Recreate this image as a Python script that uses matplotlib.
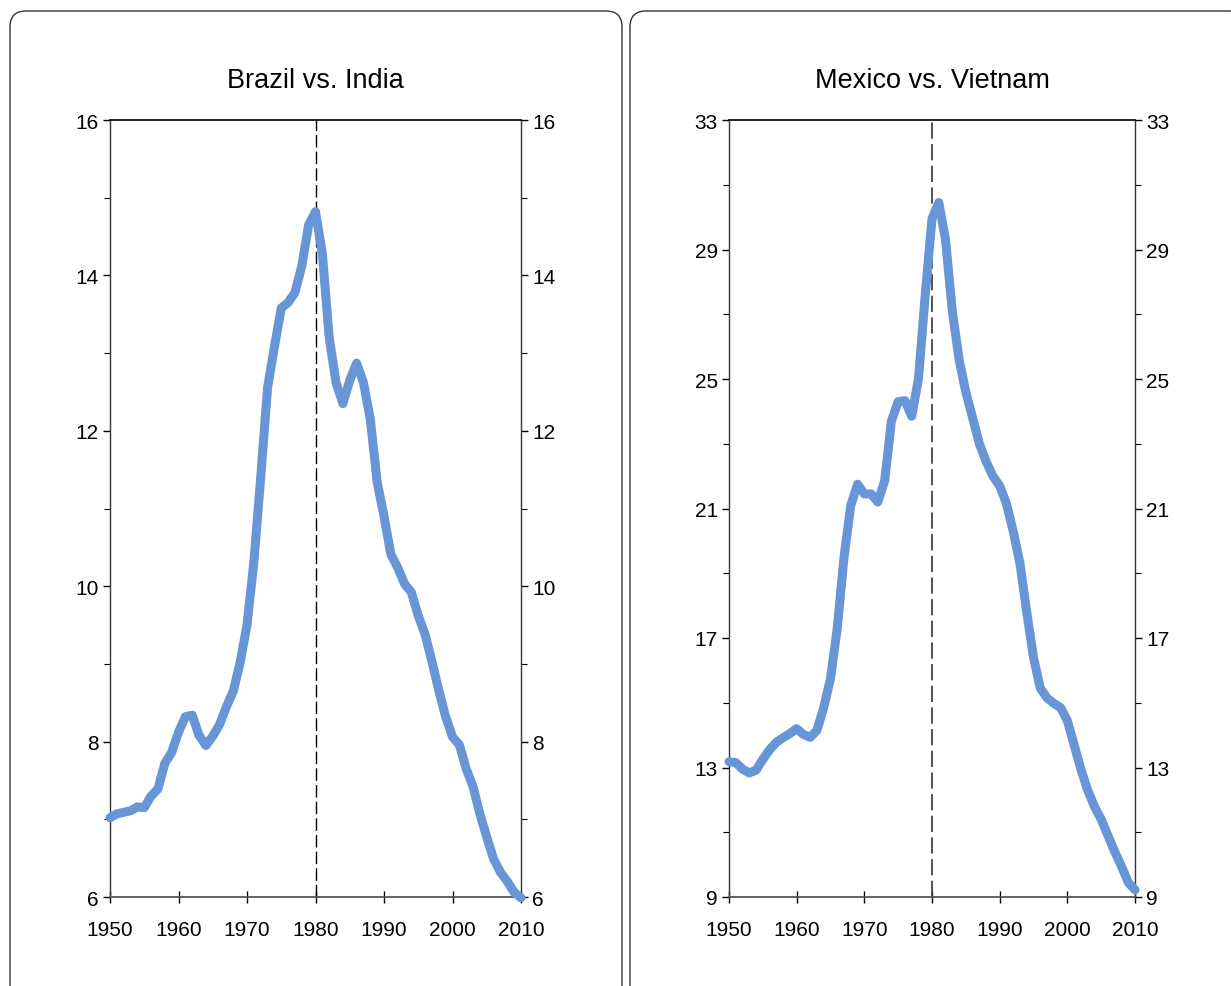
import matplotlib
matplotlib.use('Agg')
import matplotlib.pyplot as plt
import numpy as np
from matplotlib.patches import FancyBboxPatch

plt.rcParams['font.family'] = ['Liberation Sans', 'DejaVu Sans']

years = list(range(1950, 2011))

# Brazil vs. India
brazil_india = [7.02, 7.07, 7.09, 7.11, 7.16, 7.15, 7.30, 7.39, 7.72, 7.86,
                8.12, 8.32, 8.34, 8.08, 7.95, 8.07, 8.22, 8.45, 8.65, 9.02,
                9.50, 10.31, 11.40, 12.55, 13.08, 13.58, 13.65, 13.78, 14.12, 14.65,
                14.82, 14.28, 13.20, 12.62, 12.35, 12.65, 12.87, 12.62, 12.15, 11.34,
                10.90, 10.41, 10.24, 10.03, 9.92, 9.62, 9.38, 9.03, 8.66, 8.32,
                8.06, 7.96, 7.65, 7.42, 7.07, 6.77, 6.49, 6.32, 6.20, 6.06,
                5.99]

# Mexico vs. Vietnam
mexico_vietnam = [13.18, 13.15, 12.95, 12.83, 12.92, 13.25, 13.55, 13.78, 13.92, 14.05,
                  14.20, 14.02, 13.93, 14.15, 14.85, 15.75, 17.30, 19.50, 21.10, 21.75,
                  21.45, 21.45, 21.20, 21.85, 23.70, 24.30, 24.33, 23.85, 25.00, 27.60,
                  29.95, 30.45, 29.30, 27.10, 25.60, 24.60, 23.80, 23.00, 22.45, 22.00,
                  21.70, 21.15, 20.30, 19.30, 17.80, 16.40, 15.45, 15.15, 14.98, 14.85,
                  14.45, 13.70, 12.95, 12.30, 11.80, 11.40, 10.90, 10.40, 9.95, 9.45,
                  9.22]

titles = ['Brazil vs. India', 'Mexico vs. Vietnam']
ylims = [(6, 16), (9, 33)]
ystep = [2, 4]
marker_year = 1980

W, H = 1231, 987
fig = plt.figure(figsize=(W / 100, H / 100), dpi=100)

# background layer in pixel units for the rounded panel frames
bg = fig.add_axes([0, 0, 1, 1], zorder=0)
bg.set_xlim(0, W)
bg.set_ylim(H, 0)
bg.axis('off')
for x0, x1 in [(10, 622), (630, 1245)]:
    box = FancyBboxPatch((x0, 12), x1 - x0, 1100, boxstyle='round,pad=0,rounding_size=16',
                         fc='white', ec='#333333', lw=1.0)
    bg.add_patch(box)

panels = [
    (110, 521, brazil_india),
    (729, 1135, mexico_vietnam),
]

for i, (px0, px1, vals) in enumerate(panels):
    ax = fig.add_axes([px0 / W, (H - 898) / H, (px1 - px0) / W, (898 - 121) / H], zorder=1)
    ax.patch.set_alpha(0)
    ax.plot(years, vals, color='#6795d6', lw=6.5, solid_capstyle='round', solid_joinstyle='round',
            zorder=3, clip_on=False)
    ax.axvline(marker_year, color='black' if i == 0 else '#444444', lw=1.0 if i == 0 else 1.3,
               dashes=(9, 3), zorder=2)

    lo, hi = ylims[i]
    ax.set_xlim(1950, 2010)
    ax.set_ylim(lo, hi)
    ax.set_xticks(range(1950, 2011, 10))
    ax.set_yticks(np.arange(lo, hi + 0.1, ystep[i]))
    ax.set_yticks(np.arange(lo + ystep[i] / 2, hi, ystep[i]), minor=True)

    ax.tick_params(axis='x', direction='inout', length=9, width=1, labelsize=15, pad=12)
    ax.tick_params(axis='y', which='major', direction='out', length=5, width=1, labelsize=15,
                   left=True, right=True, labelleft=True, labelright=True, pad=3)
    ax.tick_params(axis='y', which='minor', direction='out', length=4, width=0.8,
                   left=True, right=True)

    ax.spines['top'].set_color('black')
    ax.spines['top'].set_linewidth(1.2)
    for s in ['left', 'right']:
        ax.spines[s].set_color('#333333')
        ax.spines[s].set_linewidth(1.0)
    ax.spines['bottom'].set_color('#555555')
    ax.spines['bottom'].set_linewidth(1.3)

    fig.text((px0 + px1) / 2 / W, (H - 81) / H, titles[i], ha='center', va='center', fontsize=19.5)

fig.savefig('out.png', dpi=100, facecolor='white')
